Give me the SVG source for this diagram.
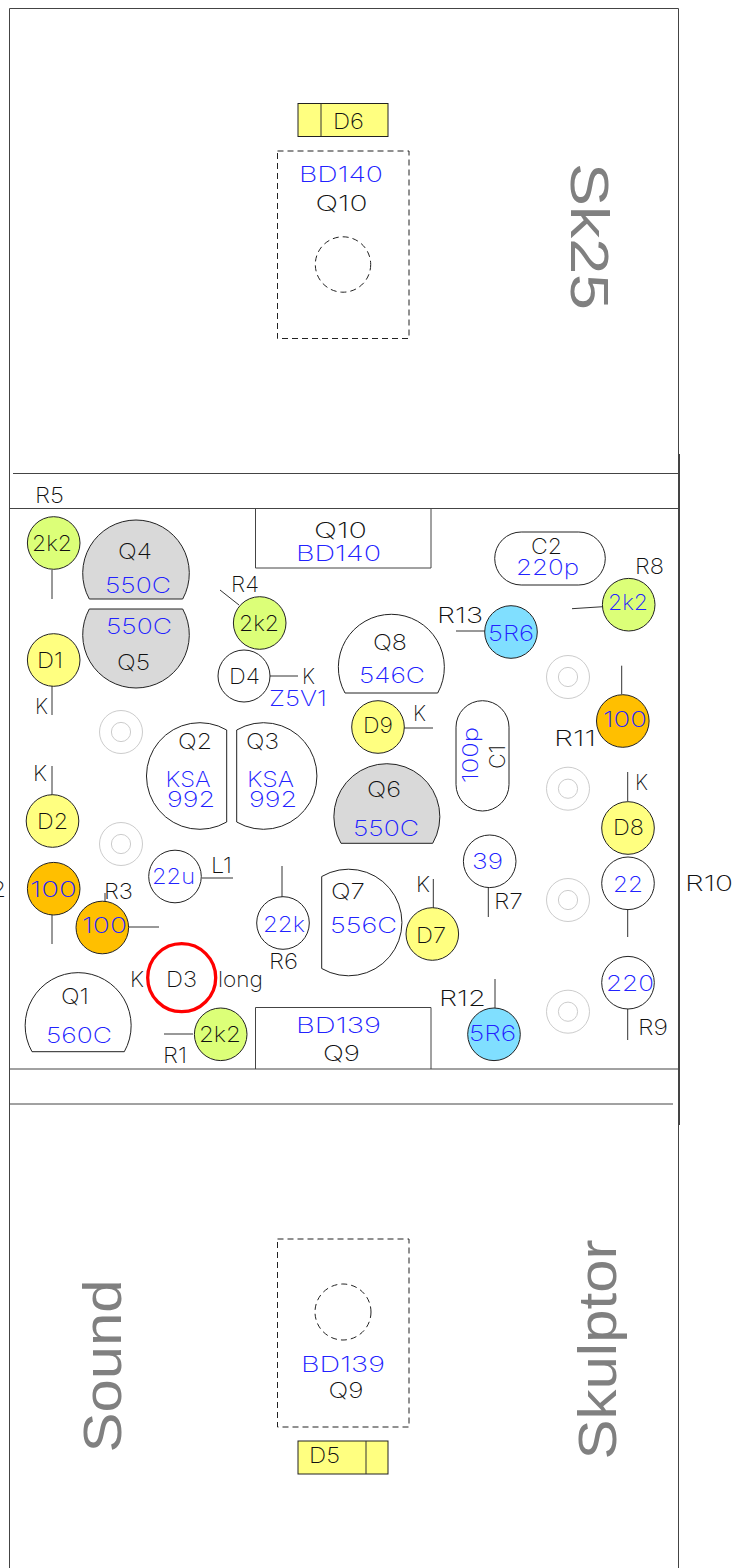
<svg xmlns="http://www.w3.org/2000/svg" width="735" height="1568" viewBox="0 0 735 1568">
<style>
text{font-family:"Inter","Liberation Sans",sans-serif;font-weight:200;font-size:21.500px;text-anchor:middle;fill:#111}
.b{fill:#2222ff}
.big{font-family:"Liberation Sans",sans-serif;font-weight:400;font-size:53px;fill:#808080}
.n{stroke:#222;stroke-width:1;fill:#fff}
.y{fill:#ffff80}.g{fill:#dcff78}.o{fill:#ffbf00}.c{fill:#80dfff}.s{fill:#d9d9d9}
.p{fill:#fff;stroke:#ccc;stroke-width:1}
.d{fill:none;stroke:#222;stroke-width:1;stroke-dasharray:6 4}
.l{stroke:#333;stroke-width:1;fill:none}
.f{stroke:#444;stroke-width:1;fill:none}
</style>
<g id="board">
<path class="f" d="M9.500 1568V8.500H678.500V1568"/>
<path class="f" d="M13 473.500H678.500M9.500 508.500H679M9.500 1069H679M9.500 1104H673"/>
<path d="M679 454V1125" stroke="#444" stroke-width="2" fill="none"/>
</g>
<g id="connectors">
<path class="l" d="M52 570V599M220 590L239 605M52 686V715M268 676H298M52 766V795M52 915V944M129 927H159M105 893V901M202 878H233M282 866V897M164 1034H193M456 631H485M572 608.700L603 606.700M621.700 665.700V694M404 728H433M627.700 772V801M488.300 888V917M627.700 909V937M627.700 1008V1040M433.300 879V908M495 979V1008"/>
</g>
<g id="pads">
<circle class="p" cx="121" cy="732" r="21.500"/><circle class="p" cx="121" cy="732" r="9.600"/>
<circle class="p" cx="121" cy="844" r="21.500"/><circle class="p" cx="121" cy="844" r="9.600"/>
<circle class="p" cx="568" cy="677" r="21.500"/><circle class="p" cx="568" cy="677" r="9.600"/>
<circle class="p" cx="568" cy="788.700" r="21.500"/><circle class="p" cx="568" cy="788.700" r="9.600"/>
<circle class="p" cx="568" cy="900" r="21.500"/><circle class="p" cx="568" cy="900" r="9.600"/>
<circle class="p" cx="568" cy="1011.700" r="21.500"/><circle class="p" cx="568" cy="1011.700" r="9.600"/>
</g>
<g id="D6"><rect class="n y" x="298" y="103.500" width="90" height="33"/><path class="l" d="M321 103.500V136.500"/><text x="348.500" y="129" textLength="31" lengthAdjust="spacingAndGlyphs">D6</text></g>
<g id="Q10-top"><rect class="d" x="277.500" y="151" width="131.500" height="187.500"/><circle class="d" cx="343" cy="264.500" r="27.700"/><text class="b" x="341" y="182" textLength="84" lengthAdjust="spacingAndGlyphs">BD140</text><text x="341.500" y="211" textLength="52" lengthAdjust="spacingAndGlyphs">Q10</text></g>
<g id="Q9-bottom"><rect class="d" x="277.500" y="1239" width="131.500" height="188"/><circle class="d" cx="343" cy="1312" r="28"/><text class="b" x="343" y="1372" textLength="84" lengthAdjust="spacingAndGlyphs">BD139</text><text x="346" y="1398" textLength="35" lengthAdjust="spacingAndGlyphs">Q9</text></g>
<g id="D5"><rect class="n y" x="298" y="1441" width="90" height="33"/><path class="l" d="M366 1441V1474"/><text x="324.500" y="1463" textLength="31" lengthAdjust="spacingAndGlyphs">D5</text></g>
<text id="label-sk25" class="big" transform="translate(571 236.500) rotate(90)" textLength="147" lengthAdjust="spacingAndGlyphs">Sk25</text>
<text id="label-sound" class="big" transform="translate(121 1366) rotate(-90)" textLength="173" lengthAdjust="spacingAndGlyphs">Sound</text>
<text id="label-skulptor" class="big" transform="translate(616 1349.500) rotate(-90)" textLength="220" lengthAdjust="spacingAndGlyphs">Skulptor</text>
<g id="Q10-box"><path class="f" d="M255.500 508.500V568H431V508.500"/><text x="340.500" y="538" textLength="53" lengthAdjust="spacingAndGlyphs">Q10</text><text class="b" x="338.500" y="561" textLength="85" lengthAdjust="spacingAndGlyphs">BD140</text></g>
<g id="Q9-box"><path class="f" d="M255.500 1069V1007.500H431V1069"/><text class="b" x="338.500" y="1033" textLength="85" lengthAdjust="spacingAndGlyphs">BD139</text><text x="341.500" y="1061" textLength="37" lengthAdjust="spacingAndGlyphs">Q9</text></g>
<g id="R5"><circle class="n g" cx="53.700" cy="543" r="26.300"/><text x="52" y="551" textLength="40" lengthAdjust="spacingAndGlyphs">2k2</text><text x="49.500" y="503" textLength="29" lengthAdjust="spacingAndGlyphs">R5</text></g>
<g id="Q4"><path class="n s" d="M89.300 599A53.300 53.300 0 1 1 182.700 599Z"/><text x="135" y="559" textLength="34" lengthAdjust="spacingAndGlyphs">Q4</text><text class="b" x="138" y="593" textLength="66" lengthAdjust="spacingAndGlyphs">550C</text></g>
<g id="Q5"><path class="n s" d="M89.300 609A53.300 53.300 0 1 0 182.700 609Z"/><text class="b" x="139" y="634" textLength="66" lengthAdjust="spacingAndGlyphs">550C</text><text x="133.500" y="670" textLength="33" lengthAdjust="spacingAndGlyphs">Q5</text></g>
<g id="R4"><circle class="n g" cx="259.700" cy="623" r="26.300"/><text x="259" y="631" textLength="40" lengthAdjust="spacingAndGlyphs">2k2</text><text x="245" y="592" textLength="28" lengthAdjust="spacingAndGlyphs">R4</text></g>
<g id="D1"><circle class="n y" cx="53.700" cy="660" r="26.300"/><text x="50" y="668" textLength="26" lengthAdjust="spacingAndGlyphs">D1</text><text x="41.500" y="714" textLength="13" lengthAdjust="spacingAndGlyphs">K</text></g>
<g id="D4"><circle class="n" cx="244" cy="676" r="26"/><text x="244.500" y="684" textLength="31" lengthAdjust="spacingAndGlyphs">D4</text><text x="308.500" y="684" textLength="13" lengthAdjust="spacingAndGlyphs">K</text><text class="b" x="298" y="706" textLength="58" lengthAdjust="spacingAndGlyphs">Z5V1</text></g>
<g id="Q2"><path class="n" d="M226.700 730A53.300 53.300 0 1 0 226.700 822Z"/><text x="195" y="749" textLength="34" lengthAdjust="spacingAndGlyphs">Q2</text><text class="b" x="188" y="787" textLength="45" lengthAdjust="spacingAndGlyphs">KSA</text><text class="b" x="191" y="807" textLength="48" lengthAdjust="spacingAndGlyphs">992</text></g>
<g id="Q3"><path class="n" d="M236.700 730A53.300 53.300 0 1 1 236.700 822Z"/><text x="262.500" y="749" textLength="33" lengthAdjust="spacingAndGlyphs">Q3</text><text class="b" x="270.500" y="787" textLength="47" lengthAdjust="spacingAndGlyphs">KSA</text><text class="b" x="273" y="807" textLength="48" lengthAdjust="spacingAndGlyphs">992</text></g>
<g id="D2"><circle class="n y" cx="52.500" cy="821" r="26.300"/><text x="52.500" y="829" textLength="31" lengthAdjust="spacingAndGlyphs">D2</text><text x="40" y="781" textLength="14" lengthAdjust="spacingAndGlyphs">K</text></g>
<g id="R2"><circle class="n o" cx="53.700" cy="888.700" r="26.300"/><text class="b" x="53.500" y="897" textLength="47" lengthAdjust="spacingAndGlyphs">100</text><text x="-8.500" y="897" textLength="29" lengthAdjust="spacingAndGlyphs">R2</text></g>
<g id="R3"><circle class="n o" cx="102.300" cy="927.500" r="26.300"/><text class="b" x="104.500" y="933" textLength="45" lengthAdjust="spacingAndGlyphs">100</text><text x="118.500" y="899" textLength="29" lengthAdjust="spacingAndGlyphs">R3</text></g>
<g id="L1"><circle class="n" cx="175" cy="876.500" r="26.300"/><text class="b" x="173.500" y="884" textLength="43" lengthAdjust="spacingAndGlyphs">22u</text><text x="221.500" y="873" textLength="21" lengthAdjust="spacingAndGlyphs">L1</text></g>
<g id="R6"><circle class="n" cx="283" cy="923" r="26.300"/><text class="b" x="284" y="932" textLength="42" lengthAdjust="spacingAndGlyphs">22k</text><text x="283.500" y="969" textLength="29" lengthAdjust="spacingAndGlyphs">R6</text></g>
<g id="D3"><circle cx="181.700" cy="977.700" r="34" fill="#fff" stroke="#f00" stroke-width="3.300"/><text x="181.500" y="987" textLength="31" lengthAdjust="spacingAndGlyphs">D3</text><text x="137" y="987" textLength="14" lengthAdjust="spacingAndGlyphs">K</text><text x="240.500" y="987" textLength="45" lengthAdjust="spacingAndGlyphs">long</text></g>
<g id="Q1"><path class="n" d="M32 1051.700A53 53 0 1 1 124.300 1051.700Z"/><text x="75" y="1004" textLength="28" lengthAdjust="spacingAndGlyphs">Q1</text><text class="b" x="79" y="1043" textLength="66" lengthAdjust="spacingAndGlyphs">560C</text></g>
<g id="R1"><circle class="n g" cx="220.700" cy="1034.300" r="26.300"/><text x="220" y="1042" textLength="42" lengthAdjust="spacingAndGlyphs">2k2</text><text x="175" y="1063" textLength="24" lengthAdjust="spacingAndGlyphs">R1</text></g>
<g id="Q7"><path class="n" d="M321.700 876.500A53.300 53.300 0 1 1 321.700 968.500Z"/><text x="348" y="899" textLength="34" lengthAdjust="spacingAndGlyphs">Q7</text><text class="b" x="363.500" y="933" textLength="67" lengthAdjust="spacingAndGlyphs">556C</text></g>
<g id="Q8"><path class="n" d="M345 693A53 53 0 1 1 437.700 693Z"/><text x="390" y="650" textLength="34" lengthAdjust="spacingAndGlyphs">Q8</text><text class="b" x="392" y="683" textLength="66" lengthAdjust="spacingAndGlyphs">546C</text></g>
<g id="Q6"><path class="n s" d="M341 843.300A53 53 0 1 1 432.700 843.300Z"/><text x="384" y="797" textLength="34" lengthAdjust="spacingAndGlyphs">Q6</text><text class="b" x="386" y="836" textLength="66" lengthAdjust="spacingAndGlyphs">550C</text></g>
<g id="R13"><circle class="n c" cx="511" cy="632" r="26.300"/><text class="b" x="511" y="641" textLength="46" lengthAdjust="spacingAndGlyphs">5R6</text><text x="460" y="623" textLength="46" lengthAdjust="spacingAndGlyphs">R13</text></g>
<g id="R8"><circle class="n g" cx="628.700" cy="604.700" r="26.300"/><text class="b" x="628" y="610" textLength="40" lengthAdjust="spacingAndGlyphs">2k2</text><text x="649.500" y="574" textLength="29" lengthAdjust="spacingAndGlyphs">R8</text></g>
<g id="R11"><circle class="n o" cx="622.800" cy="721" r="26.300"/><text class="b" x="625" y="727" textLength="44" lengthAdjust="spacingAndGlyphs">100</text><text x="575" y="746" textLength="42" lengthAdjust="spacingAndGlyphs">R11</text></g>
<g id="D9"><circle class="n y" cx="378" cy="727" r="26.300"/><text x="378" y="733" textLength="30" lengthAdjust="spacingAndGlyphs">D9</text><text x="419.500" y="721" textLength="13" lengthAdjust="spacingAndGlyphs">K</text></g>
<g id="C1"><rect class="n" x="456" y="700.700" width="53" height="110.300" rx="26.500"/><text class="b" transform="translate(478 755) rotate(-90)" textLength="56" lengthAdjust="spacingAndGlyphs">100p</text><text transform="translate(505 757) rotate(-90)" textLength="24" lengthAdjust="spacingAndGlyphs">C1</text></g>
<g id="C2"><rect class="n" x="494.700" y="532" width="110.600" height="53" rx="26.500"/><text x="546.500" y="554" textLength="31" lengthAdjust="spacingAndGlyphs">C2</text><text class="b" x="547.500" y="575" textLength="63" lengthAdjust="spacingAndGlyphs">220p</text></g>
<g id="D8"><circle class="n y" cx="628" cy="828" r="26.300"/><text x="628.500" y="835" textLength="31" lengthAdjust="spacingAndGlyphs">D8</text><text x="641.500" y="790" textLength="13" lengthAdjust="spacingAndGlyphs">K</text></g>
<g id="R7"><circle class="n" cx="489.700" cy="861.300" r="26.300"/><text class="b" x="487.500" y="869" textLength="31" lengthAdjust="spacingAndGlyphs">39</text><text x="508.500" y="909" textLength="29" lengthAdjust="spacingAndGlyphs">R7</text></g>
<g id="R10"><circle class="n" cx="628" cy="883.300" r="26.300"/><text class="b" x="628" y="892" textLength="30" lengthAdjust="spacingAndGlyphs">22</text><text x="709" y="891" textLength="48" lengthAdjust="spacingAndGlyphs">R10</text></g>
<g id="R9"><circle class="n" cx="628" cy="982.700" r="26.300"/><text class="b" x="630" y="991" textLength="48" lengthAdjust="spacingAndGlyphs">220</text><text x="653" y="1035" textLength="30" lengthAdjust="spacingAndGlyphs">R9</text></g>
<g id="D7"><circle class="n y" cx="432.300" cy="934" r="26.300"/><text x="431" y="943" textLength="30" lengthAdjust="spacingAndGlyphs">D7</text><text x="423" y="892" textLength="14" lengthAdjust="spacingAndGlyphs">K</text></g>
<g id="R12"><circle class="n c" cx="494" cy="1034.300" r="26.300"/><text class="b" x="492.500" y="1041" textLength="47" lengthAdjust="spacingAndGlyphs">5R6</text><text x="462.500" y="1006" textLength="47" lengthAdjust="spacingAndGlyphs">R12</text></g>
</svg>
